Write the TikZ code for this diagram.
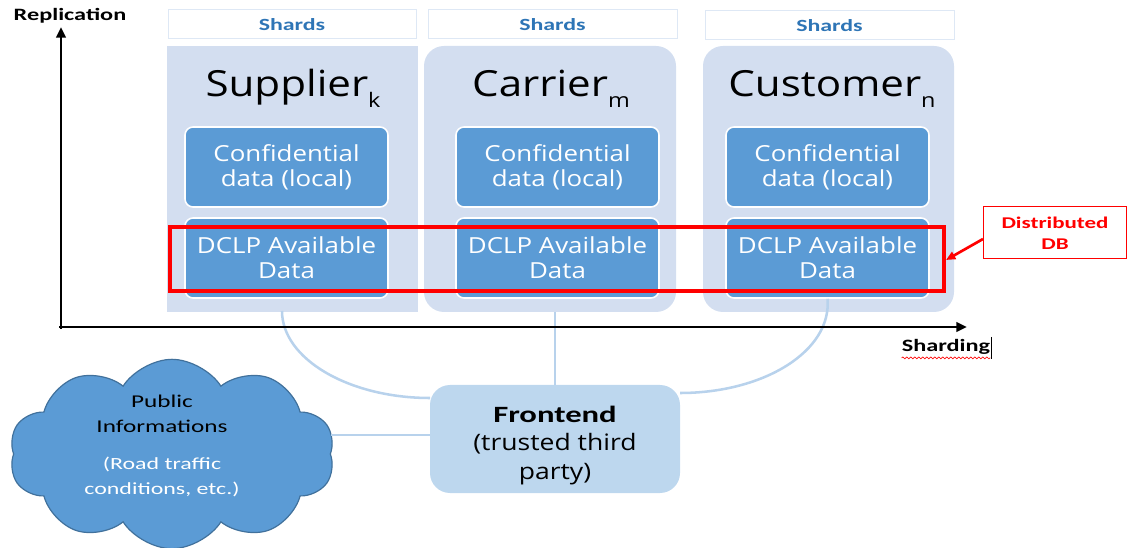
\documentclass[tikz,border=0pt]{standalone}
\usepackage{fontspec}
\setmainfont{Open Sans}[FakeStretch=1.17]
\newfontfamily\calib{Carlito}[FakeStretch=1.4]
\usetikzlibrary{shapes.symbols,arrows.meta,decorations.pathmorphing}
\definecolor{panelc}{HTML}{D3DEF0}
\definecolor{innerc}{HTML}{5B9BD5}
\definecolor{frontc}{HTML}{BDD7EE}
\definecolor{shardtxt}{HTML}{2E75B6}
\definecolor{shardbd}{HTML}{DEE8F5}
\definecolor{cloudbd}{HTML}{41719C}
\definecolor{connc}{HTML}{B8D2EC}
\newcommand\subx[1]{\raisebox{-0.28em}{\fontsize{15}{15}\selectfont #1}}
\begin{document}
\begin{tikzpicture}[x=0.75pt,y=-0.75pt,
  panel/.style={fill=panelc, draw=none, minimum width=188.25pt, minimum height=199.5pt, inner sep=0pt},
  shardbox/.style={draw=shardbd, fill=white, line width=0.75pt, minimum width=186pt, minimum height=21.75pt, inner sep=0pt, font=\calib\bfseries\fontsize{12.8}{14}\selectfont, text=shardtxt},
  titletext/.style={font=\fontsize{27}{30}\selectfont, text=black, anchor=base, inner sep=0pt},
  innerbox/.style={fill=innerc, draw=white, line width=1.2pt, rounded corners=6pt, minimum width=152.25pt, minimum height=60pt, inner sep=0pt, text=white, align=center, font=\fontsize{16.6}{18.75}\selectfont},
  conn/.style={draw=connc, line width=1.9pt},
  axis/.style={draw=black, line width=2pt, -{Triangle[length=8pt,width=7pt]}},
  axlabel/.style={font=\calib\bfseries\fontsize{13}{15}\selectfont, text=black, inner sep=0pt}
]
\useasboundingbox (0,0) rectangle (1127,548);

\coordinate (s1) at (282,311);
\coordinate (f1) at (430,398);
\coordinate (f3) at (680,393);
\coordinate (lev) at (400,435);

% frontend
\node[fill=frontc, rounded corners=15pt, minimum width=187.5pt, minimum height=81pt, inner sep=0pt, align=center, font=\fontsize{17}{21.5}\selectfont] (front) at (555,439)
  {\rule{0pt}{22pt}{\calib\bfseries\fontsize{17.5}{21.5}\selectfont Frontend}\\(trusted third\\party)};

% panels
\node[panel] (pS) at (292.5,179) {};
\node[panel, rounded corners=15pt, minimum width=189pt] (pC) at (550,179) {};
\node[panel, rounded corners=15pt] (pU) at (828.5,179) {};

\draw[conn] (s1) .. controls (282,359) and (349,398) .. (f1);
\draw[conn] (front.north) -- (front.north |- pC.south);

% shards
\node[shardbox] (hS) at (292,24.5) {Shards};
\node[shardbox, minimum width=186.75pt] (hC) at (552.5,24.5) {Shards};
\node[shardbox, minimum width=186.75pt] (hU) at (829.5,25.5) {Shards};

% titles
\node[titletext] (tS) at (293,97) {Supplier\subx{k}};
\node[titletext] (tC) at (551,97) {Carrier\subx{m}};
\node[titletext] (tU) at (832,97) {Customer\subx{n}};

% inner boxes
\node[innerbox] (cS) at (286.5,167) {Confidential\\data (local)};
\node[innerbox] (dS) at (286.5,258) {DCLP Available\\Data};
\node[innerbox] (cC) at (557.5,167) {Confidential\\data (local)};
\node[innerbox] (dC) at (557.5,258) {DCLP Available\\Data};
\node[innerbox] (cU) at (827.5,167) {Confidential\\data (local)};
\node[innerbox] (dU) at (827.5,258) {DCLP Available\\Data};

\draw[conn] (dU.south) .. controls (832,351) and (764,393) .. (f3);

% distributed DB frame
\node[draw=red, line width=2.4pt, minimum width=580.5pt, minimum height=48pt, inner sep=0pt] (frame) at (557,259) {};
\node[draw=red, fill=white, line width=0.75pt, minimum width=107.25pt, minimum height=39pt, inner sep=0pt, align=center, text=red, font=\calib\bfseries\fontsize{12.3}{15.75}\selectfont] (ddb) at (1055,233) {Distributed\\DB};
\coordinate (ddbA) at (983,239);
\coordinate (frameA) at (946,260);
\draw[red, line width=2pt, -{Triangle[length=7pt,width=6pt]}] (ddbA) -- (frameA);

% axes
\coordinate (ytop) at (61,27);
\coordinate (xend) at (967,327);
\coordinate (ybot) at (61,329);
\coordinate (xbeg) at (59,327);
\draw[axis] (ybot) -- (ytop);
\draw[axis] (xbeg) -- (xend);
\node[axlabel] (rep) at (70,16) {Replication};
\node[axlabel, anchor=base] (shd) at (946,352) {Sharding};
\draw[red, line width=0.5pt, decorate, decoration={snake, amplitude=0.7pt, segment length=3pt}] ([yshift=-2pt]shd.south west) -- ([yshift=-2pt]shd.south east);
\draw[black, line width=0.6pt] ([xshift=1pt,yshift=2pt]shd.north east) -- ([xshift=1pt,yshift=-3pt]shd.south east);

% cloud
\node[cloud, cloud puffs=10, cloud puff arc=115, cloud ignores aspect, fill=innerc, draw=cloudbd, line width=0.9pt, minimum width=244pt, minimum height=142pt, inner sep=0pt] (cloud) at (172,454) {};
\node[align=center, inner sep=0pt, font=\calib\fontsize{13.5}{18.75}\selectfont] (ctext) at (162,446)
  {Public\\Informations\\[9.5pt]\textcolor{white}{\fontsize{12.8}{18.75}\selectfont (Road traffic}\\\textcolor{white}{\fontsize{12.8}{18.75}\selectfont conditions, etc.)}};
\draw[conn] (front.west |- lev) -- (cloud.east |- lev);
\end{tikzpicture}
\end{document}
